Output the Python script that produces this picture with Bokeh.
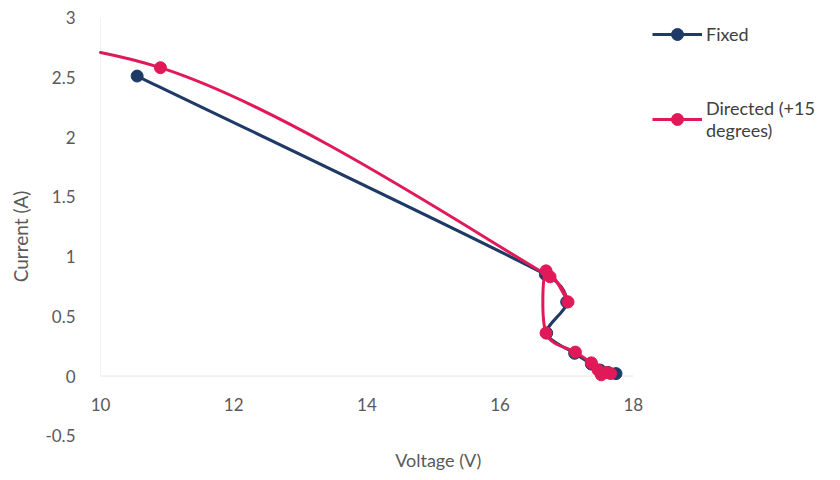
import math
from bokeh.plotting import figure
from bokeh.models import (ColumnDataSource, Legend, LegendItem, Label,
                          FixedTicker, Range1d)
from bokeh.core.properties import value
from bokeh.embed import file_html
from bokeh.resources import INLINE

# ---- data ----
fixed_v = [10.55, 16.68, 17.00, 16.70, 17.12, 17.37, 17.50, 17.62, 17.74]
fixed_i = [2.51, 0.85, 0.62, 0.36, 0.19, 0.10, 0.05, 0.03, 0.02]

# first point lies left of the visible axis range (clipped, as in the reference)
directed_v = [5.00, 10.90, 16.75, 17.02, 16.69, 16.69, 17.13, 17.37, 17.47, 17.60, 17.52, 17.66]
directed_i = [2.93, 2.58, 0.83, 0.62, 0.88, 0.36, 0.20, 0.11, 0.05, 0.03, 0.01, 0.02]

x_ticks = [10, 12, 14, 16, 18]
x_tick_labels = ["10", "12", "14", "16", "18"]
y_ticks = [-0.5, 0, 0.5, 1, 1.5, 2, 2.5, 3]
y_tick_labels = ["-0.5", "0", "0.5", "1", "1.5", "2", "2.5", "3"]

series_names = ["Fixed", "Directed (+15\ndegrees)"]
NAVY = "#1f3a66"
RED = "#e01a58"
FONT = "Lato"
GRAY = "#595959"

W, H = 824, 472
PX_PER_V, PX_PER_A = 66.6, 119.5
XMIN = x_ticks[0]                 # axis minimum; lines are clipped here
FL = 82                           # frame left offset in the canvas
FW, FH = W - FL, H
X0 = XMIN - 18 / PX_PER_V
X1 = X0 + FW / PX_PER_V
Y1 = y_ticks[-1] + 17 / PX_PER_A
Y0 = Y1 - FH / PX_PER_A

p = figure(width=W, height=H, output_backend="svg", toolbar_location=None,
           x_range=Range1d(X0, X1), y_range=Range1d(Y0, Y1),
           x_axis_location=None,
           min_border_left=FL, min_border_right=0,
           min_border_top=0, min_border_bottom=0)
p.grid.visible = False
p.outline_line_color = None
p.background_fill_color = "white"
p.border_fill_color = "white"

# y axis
ax = p.yaxis[0]
ax.ticker = FixedTicker(ticks=y_ticks)
ax.major_label_overrides = {t: l for t, l in zip(y_ticks, y_tick_labels)}
ax.axis_line_color = None
ax.major_tick_line_color = None
ax.minor_tick_line_color = None
ax.major_label_standoff = 1
ax.major_label_text_font = FONT
ax.major_label_text_font_size = "17px"
ax.major_label_text_color = GRAY
ax.axis_label = "Current (A)"
ax.axis_label_text_font = FONT
ax.axis_label_text_font_style = "normal"
ax.axis_label_text_font_size = "19px"
ax.axis_label_text_color = GRAY
ax.axis_label_standoff = 10

# faint axis lines, x axis crossing at 0, tick labels under it
p.segment(x0=[x_ticks[0]], y0=[0], x1=[x_ticks[-1]], y1=[0],
          line_color="#e6e6e6", line_width=1)
p.segment(x0=[XMIN], y0=[0], x1=[XMIN], y1=[y_ticks[-1]],
          line_color="#f3f3f3", line_width=1)
p.text(x=x_ticks, y=[-0.238] * len(x_ticks), text=x_tick_labels,
       text_font=value(FONT), text_font_size="17px", text_color=GRAY,
       text_align="center", text_baseline="middle")
p.add_layout(Label(x=15.07, y=-0.705, text="Voltage (V)", text_font=FONT,
                   text_font_size="18px", text_color=GRAY,
                   text_align="center", text_baseline="middle"))

# spreadsheet-style smoothed line: Catmull-Rom Bezier in screen space
kx, ky = PX_PER_V, PX_PER_A


def bez(b, t):
    (x0, y0), (a0, b0), (a1, b1), (x1, y1) = b
    u = 1 - t
    return (u**3 * x0 + 3 * u * u * t * a0 + 3 * u * t * t * a1 + t**3 * x1,
            u**3 * y0 + 3 * u * u * t * b0 + 3 * u * t * t * b1 + t**3 * y1)


def split_right(b, t):
    p0, p1, p2, p3 = b
    lerp = lambda a, c: (a[0] + (c[0] - a[0]) * t, a[1] + (c[1] - a[1]) * t)
    q0, q1, q2 = lerp(p0, p1), lerp(p1, p2), lerp(p2, p3)
    r0, r1 = lerp(q0, q1), lerp(q1, q2)
    s = lerp(r0, r1)
    return (s, r1, q2, p3)


def smooth(xs, ys):
    P = [(x * kx, y * ky) for x, y in zip(xs, ys)]
    n = len(P)
    out = dict(x0=[], y0=[], x1=[], y1=[], cx0=[], cy0=[], cx1=[], cy1=[])
    xmin = XMIN * kx
    for i in range(n - 1):
        a, b = P[i], P[i + 1]
        L = math.hypot(b[0] - a[0], b[1] - a[1])
        prv = P[i - 1] if i > 0 else a
        nxt = P[i + 2] if i + 2 < n else b
        v0 = ((b[0] - prv[0]) / 6, (b[1] - prv[1]) / 6)
        v1 = ((nxt[0] - a[0]) / 6, (nxt[1] - a[1]) / 6)
        cap = L / 2
        l0, l1 = math.hypot(*v0), math.hypot(*v1)
        if l0 > cap:
            v0 = (v0[0] * cap / l0, v0[1] * cap / l0)
        if l1 > cap:
            v1 = (v1[0] * cap / l1, v1[1] * cap / l1)
        seg = (a, (a[0] + v0[0], a[1] + v0[1]), (b[0] - v1[0], b[1] - v1[1]), b)
        if b[0] < xmin and a[0] < xmin:
            continue
        if a[0] < xmin:
            lo, hi = 0.0, 1.0
            for _ in range(60):
                mid = (lo + hi) / 2
                if bez(seg, mid)[0] < xmin:
                    lo = mid
                else:
                    hi = mid
            seg = split_right(seg, hi)
        (s0, c0, c1, s1) = seg
        out["x0"].append(s0[0] / kx); out["y0"].append(s0[1] / ky)
        out["cx0"].append(c0[0] / kx); out["cy0"].append(c0[1] / ky)
        out["cx1"].append(c1[0] / kx); out["cy1"].append(c1[1] / ky)
        out["x1"].append(s1[0] / kx); out["y1"].append(s1[1] / ky)
    return ColumnDataSource(out)


items = []
nan = float("nan")
for name, xs, ys, col in [(series_names[0], fixed_v, fixed_i, NAVY),
                          (series_names[1], directed_v, directed_i, RED)]:
    p.bezier(x0="x0", y0="y0", x1="x1", y1="y1", cx0="cx0", cy0="cy0",
             cx1="cx1", cy1="cy1", source=smooth(xs, ys),
             line_color=col, line_width=3, line_cap="round")
    vis = [(x, y) for x, y in zip(xs, ys) if x >= XMIN]
    sc = p.scatter([v[0] for v in vis], [v[1] for v in vis], size=12,
                   marker="circle", fill_color=col, line_color=col, line_width=1)
    key = p.line(x=[nan, nan], y=[nan, nan], line_color=col, line_width=3)
    items.append(LegendItem(label=name, renderers=[key, sc]))

legend = Legend(items=items, location=(570, 331), orientation="vertical",
                label_text_font=FONT, label_text_font_size="18px",
                label_text_color="#404040", glyph_width=50, glyph_height=30,
                spacing=48, padding=0, margin=0, label_standoff=4,
                border_line_color=None, background_fill_alpha=0)
p.add_layout(legend)

open("out.html", "w").write(file_html(p, INLINE))
